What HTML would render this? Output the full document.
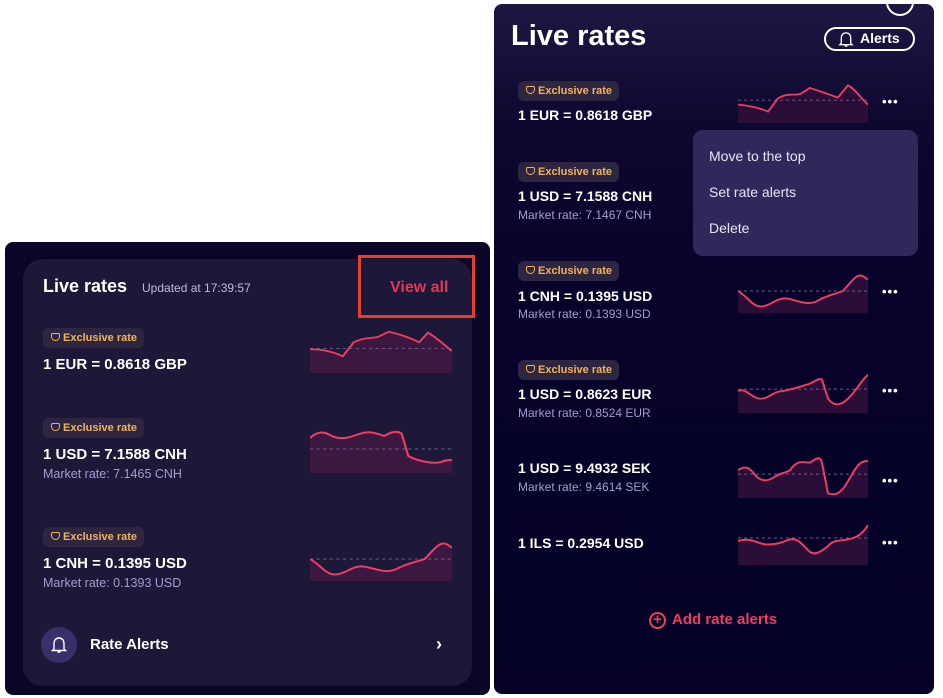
<!DOCTYPE html>
<html><head><meta charset="utf-8"><style>
*{margin:0;padding:0;box-sizing:border-box}
body{width:943px;height:698px;background:#fff;position:relative;overflow:hidden;font-family:"Liberation Sans",sans-serif;color:#fff}
.a{position:absolute;white-space:nowrap}
.badge{position:absolute;height:20px;border-radius:6px;background:#2e2540;color:#f0b35a;font-size:11px;font-weight:bold;line-height:20px;padding:0 7px 0 8px}
.badge span{display:inline-block;width:9px;height:8px;border:1.5px solid #f0b35a;border-radius:2px 2px 5px 5px;margin-right:3px;vertical-align:-0px}
.rate{position:absolute;font-weight:bold;font-size:15px;white-space:nowrap}
.mk{position:absolute;font-size:12.5px;color:#a49ccf;white-space:nowrap}
.dots{position:absolute;color:#fff;font-weight:bold;font-size:13px;letter-spacing:1px}
svg.sp{position:absolute}
</style></head><body>
<!-- left panel -->
<div class="a" style="left:5px;top:242px;width:485px;height:453px;background:#0b0628;border-radius:8px"></div>
<div class="a" style="left:23px;top:259px;width:449px;height:427px;background:#1e1838;border-radius:20px"></div>
<div class="a" style="left:43px;top:276px;font-size:18px;font-weight:bold">Live rates</div>
<div class="a" style="left:142px;top:281px;font-size:12px;color:#c0badc">Updated at 17:39:57</div>
<div class="a" style="left:358px;top:255px;width:117px;height:63px;border:3px solid #e8402e"></div>
<div class="a" style="left:390px;top:279px;font-size:16px;font-weight:bold;color:#e8335a">View all</div>

<div class="badge" style="left:43px;top:328px"><span></span>Exclusive rate</div>
<div class="rate" style="left:43px;top:356px">1 EUR = 0.8618 GBP</div>
<div class="badge" style="left:43px;top:418px"><span></span>Exclusive rate</div>
<div class="rate" style="left:43px;top:446px">1 USD = 7.1588 CNH</div>
<div class="mk" style="left:43px;top:467px">Market rate: 7.1465 CNH</div>
<div class="badge" style="left:43px;top:527px"><span></span>Exclusive rate</div>
<div class="rate" style="left:43px;top:555px">1 CNH = 0.1395 USD</div>
<div class="mk" style="left:43px;top:576px">Market rate: 0.1393 USD</div>

<svg class="sp" style="left:310px;top:330px" width="142" height="43" viewBox="0 -4 130 49" preserveAspectRatio="none"><path d="M0,18 C10,18 20,20 30,26 L40,10 C50,4 55,6 62,4 L72,-2 C80,0 90,4 100,10 L108,-1 C115,4 122,12 130,20 L130,45 L0,45Z" fill="#3a1840"/><line x1="0" y1="17" x2="130" y2="17" stroke="#6f5a8a" stroke-dasharray="3,3"/><path d="M0,18 C10,18 20,20 30,26 L40,10 C50,4 55,6 62,4 L72,-2 C80,0 90,4 100,10 L108,-1 C115,4 122,12 130,20" fill="none" stroke="#ee3d63" stroke-width="2"/></svg>
<svg class="sp" style="left:310px;top:428px" width="142" height="45" viewBox="0 0 130 45" preserveAspectRatio="none"><path d="M0,10 C8,2 14,4 20,8 C28,12 35,10 45,6 C55,2 62,6 68,8 C74,4 80,2 84,6 L90,28 C100,34 115,36 120,34 C124,32 127,32 130,32 L130,45 L0,45Z" fill="#3a1840"/><line x1="0" y1="21" x2="130" y2="21" stroke="#6f5a8a" stroke-dasharray="3,3"/><path d="M0,10 C8,2 14,4 20,8 C28,12 35,10 45,6 C55,2 62,6 68,8 C74,4 80,2 84,6 L90,28 C100,34 115,36 120,34 C124,32 127,32 130,32" fill="none" stroke="#ee3d63" stroke-width="2"/></svg>
<svg class="sp" style="left:310px;top:538px" width="142" height="43" viewBox="0 0 130 45" preserveAspectRatio="none"><path d="M0,22 C10,28 15,40 25,38 C35,36 40,28 50,30 C60,32 70,38 80,32 C90,26 95,26 105,22 C112,14 118,4 124,6 C127,7 129,10 130,10 L130,45 L0,45Z" fill="#3a1840"/><line x1="0" y1="22" x2="130" y2="22" stroke="#6f5a8a" stroke-dasharray="3,3"/><path d="M0,22 C10,28 15,40 25,38 C35,36 40,28 50,30 C60,32 70,38 80,32 C90,26 95,26 105,22 C112,14 118,4 124,6 C127,7 129,10 130,10" fill="none" stroke="#ee3d63" stroke-width="2"/></svg>

<div class="a" style="left:41px;top:627px;width:36px;height:36px;border-radius:50%;background:#3a2f6a"></div>
<svg class="a" style="left:51px;top:636px" width="16" height="18" viewBox="0 0 16 18"><path d="M3,13 L3,8 C3,4 5,2 8,2 C11,2 13,4 13,8 L13,13 L14.5,14.5 L1.5,14.5Z M6.5,16 L9.5,16" fill="none" stroke="#fff" stroke-width="1.4"/></svg>
<div class="a" style="left:90px;top:636px;font-size:15px;font-weight:bold">Rate Alerts</div>
<div class="a" style="left:436px;top:634px;font-size:18px;font-weight:bold">›</div>

<!-- right panel -->
<div class="a" style="left:494px;top:4px;width:440px;height:690px;border-radius:8px;background:linear-gradient(#1d1741 0px,#0d0830 120px,#06022a 300px,#040125)"></div>
<div class="a" style="left:886px;top:-12px;width:28px;height:28px;border:2px solid #fff;border-radius:50%"></div>
<div class="a" style="left:511px;top:20px;font-size:29px;font-weight:bold">Live rates</div>
<div class="a" style="left:824px;top:27px;width:91px;height:24px;border:2px solid #fff;border-radius:12px"></div>
<svg class="a" style="left:838px;top:31px" width="16" height="17" viewBox="0 0 16 18"><path d="M3,13 L3,8 C3,4 5,2 8,2 C11,2 13,4 13,8 L13,13 L14.5,14.5 L1.5,14.5Z M6.5,16 L9.5,16" fill="none" stroke="#fff" stroke-width="1.4"/></svg>
<div class="a" style="left:860px;top:30px;font-size:14px;font-weight:bold">Alerts</div>

<div class="badge" style="left:518px;top:81px"><span></span>Exclusive rate</div>
<div class="rate" style="left:518px;top:107px;font-size:14px">1 EUR = 0.8618 GBP</div>
<div class="badge" style="left:518px;top:162px"><span></span>Exclusive rate</div>
<div class="rate" style="left:518px;top:188px;font-size:14px">1 USD = 7.1588 CNH</div>
<div class="mk" style="left:518px;top:208px;font-size:12px">Market rate: 7.1467 CNH</div>
<div class="badge" style="left:518px;top:261px"><span></span>Exclusive rate</div>
<div class="rate" style="left:518px;top:288px;font-size:14px">1 CNH = 0.1395 USD</div>
<div class="mk" style="left:518px;top:307px;font-size:12px">Market rate: 0.1393 USD</div>
<div class="badge" style="left:518px;top:360px"><span></span>Exclusive rate</div>
<div class="rate" style="left:518px;top:386px;font-size:14px">1 USD = 0.8623 EUR</div>
<div class="mk" style="left:518px;top:406px;font-size:12px">Market rate: 0.8524 EUR</div>
<div class="rate" style="left:518px;top:460px;font-size:14px">1 USD = 9.4932 SEK</div>
<div class="mk" style="left:518px;top:480px;font-size:12px">Market rate: 9.4614 SEK</div>
<div class="rate" style="left:518px;top:535px;font-size:14px">1 ILS = 0.2954 USD</div>

<svg class="sp" style="left:738px;top:80px" width="130" height="43" viewBox="0 -4 130 49" preserveAspectRatio="none"><path d="M0,24 C10,25 20,27 30,32 L40,17 C50,10 55,14 62,12 L72,5 C80,8 90,12 100,16 L110,2 C117,6 122,16 130,24 L130,45 L0,45Z" fill="#2a0e38"/><line x1="0" y1="19" x2="130" y2="19" stroke="#6f5a8a" stroke-dasharray="3,3"/><path d="M0,24 C10,25 20,27 30,32 L40,17 C50,10 55,14 62,12 L72,5 C80,8 90,12 100,16 L110,2 C117,6 122,16 130,24" fill="none" stroke="#ee3d63" stroke-width="2"/></svg>
<svg class="sp" style="left:738px;top:270px" width="130" height="43" viewBox="0 0 130 45" preserveAspectRatio="none"><path d="M0,22 C10,28 15,40 25,38 C35,36 40,28 50,30 C60,32 70,38 80,32 C90,26 95,26 105,22 C112,14 118,4 124,6 C127,7 129,10 130,10 L130,45 L0,45Z" fill="#2a0e38"/><line x1="0" y1="22" x2="130" y2="22" stroke="#6f5a8a" stroke-dasharray="3,3"/><path d="M0,22 C10,28 15,40 25,38 C35,36 40,28 50,30 C60,32 70,38 80,32 C90,26 95,26 105,22 C112,14 118,4 124,6 C127,7 129,10 130,10" fill="none" stroke="#ee3d63" stroke-width="2"/></svg>
<svg class="sp" style="left:738px;top:370px" width="130" height="43" viewBox="0 0 130 45" preserveAspectRatio="none"><path d="M0,22 C8,18 14,30 22,30 C32,30 35,22 45,22 C55,20 60,18 70,15 C78,12 80,8 84,10 L90,30 C96,38 102,38 110,30 C118,22 124,10 130,5 L130,45 L0,45Z" fill="#2a0e38"/><line x1="0" y1="20" x2="130" y2="20" stroke="#6f5a8a" stroke-dasharray="3,3"/><path d="M0,22 C8,18 14,30 22,30 C32,30 35,22 45,22 C55,20 60,18 70,15 C78,12 80,8 84,10 L90,30 C96,38 102,38 110,30 C118,22 124,10 130,5" fill="none" stroke="#ee3d63" stroke-width="2"/></svg>
<svg class="sp" style="left:738px;top:455px" width="130" height="43" viewBox="0 0 130 45" preserveAspectRatio="none"><path d="M0,16 C8,10 12,14 18,22 C24,28 30,28 38,22 C45,18 50,18 52,16 C60,4 65,8 72,8 C78,4 82,0 84,8 L90,40 C96,42 100,42 106,34 C114,22 118,10 125,7 L130,6 L130,45 L0,45Z" fill="#2a0e38"/><line x1="0" y1="20" x2="130" y2="20" stroke="#6f5a8a" stroke-dasharray="3,3"/><path d="M0,16 C8,10 12,14 18,22 C24,28 30,28 38,22 C45,18 50,18 52,16 C60,4 65,8 72,8 C78,4 82,0 84,8 L90,40 C96,42 100,42 106,34 C114,22 118,10 125,7 L130,6" fill="none" stroke="#ee3d63" stroke-width="2"/></svg>
<svg class="sp" style="left:738px;top:520px" width="130" height="45" viewBox="0 0 130 45" preserveAspectRatio="none"><path d="M0,21 C10,18 15,21 25,24 C35,26 45,22 50,20 C60,16 65,26 72,32 C78,36 85,30 90,26 C97,18 105,22 115,18 C122,16 127,10 130,5 L130,45 L0,45Z" fill="#2a0e38"/><line x1="0" y1="18" x2="130" y2="18" stroke="#6f5a8a" stroke-dasharray="3,3"/><path d="M0,21 C10,18 15,21 25,24 C35,26 45,22 50,20 C60,16 65,26 72,32 C78,36 85,30 90,26 C97,18 105,22 115,18 C122,16 127,10 130,5" fill="none" stroke="#ee3d63" stroke-width="2"/></svg>

<div class="dots" style="left:882px;top:94px">•••</div>
<div class="dots" style="left:882px;top:284px">•••</div>
<div class="dots" style="left:882px;top:383px">•••</div>
<div class="dots" style="left:882px;top:473px">•••</div>
<div class="dots" style="left:882px;top:535px">•••</div>

<div class="a" style="left:693px;top:130px;width:225px;height:126px;background:#30285a;border-radius:10px"></div>
<div class="a" style="left:709px;top:148px;font-size:14px;color:#e8e4f6">Move to the top</div>
<div class="a" style="left:709px;top:184px;font-size:14px;color:#e8e4f6">Set rate alerts</div>
<div class="a" style="left:709px;top:220px;font-size:14px;color:#e8e4f6">Delete</div>

<div class="a" style="left:649px;top:612px;width:17px;height:17px;border:2px solid #ee3d63;border-radius:50%;color:#ee3d63;font-size:15px;line-height:12px;text-align:center;font-weight:bold">+</div>
<div class="a" style="left:672px;top:611px;font-size:15px;font-weight:bold;color:#ee3d63">Add rate alerts</div>
</body></html>
